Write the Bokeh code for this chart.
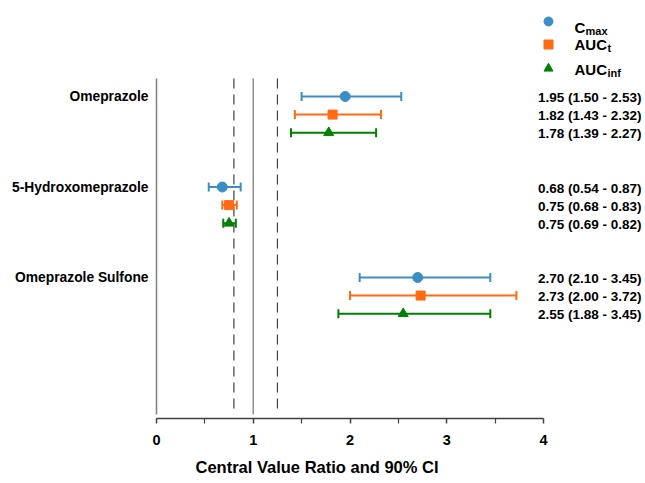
from bokeh.plotting import figure
from bokeh.models import Range1d, FixedTicker, Title
from bokeh.core.properties import value
from bokeh.embed import file_html
from bokeh.resources import INLINE

# ---- data ----
compounds = ["Omeprazole", "5-Hydroxomeprazole", "Omeprazole Sulfone"]
params = ["Cmax", "AUCt", "AUCinf"]
cmax_est = [1.95, 0.68, 2.70]
cmax_lo = [1.50, 0.54, 2.10]
cmax_hi = [2.53, 0.87, 3.45]
auct_est = [1.82, 0.75, 2.73]
auct_lo = [1.43, 0.68, 2.00]
auct_hi = [2.32, 0.83, 3.72]
aucinf_est = [1.78, 0.75, 2.55]
aucinf_lo = [1.39, 0.69, 1.88]
aucinf_hi = [2.27, 0.82, 3.45]
x_ticks = [0, 1, 2, 3, 4]
ref_lines = [0.8, 1.25]

FONT = "Liberation Sans"
colors = ["#3A8EC3", "#FF6A13", "#008000"]
markers = ["circle", "square", "triangle"]
series = [(cmax_est, cmax_lo, cmax_hi), (auct_est, auct_lo, auct_hi),
          (aucinf_est, aucinf_lo, aucinf_hi)]

PX_ROW = 18.1   # pixels per row unit
def row_px(px):  # convert a vertical screen pixel (row 0 at 96) into row units
    return (px - 96) / PX_ROW

p = figure(width=645, height=483, output_backend="svg", toolbar_location=None,
           title=None,
           x_range=Range1d(-6 / 96.75, (645 - 156) / 96.75),
           y_range=Range1d(row_px(418), row_px(0)),
           min_border_left=150, min_border_right=0, min_border_top=0,
           min_border_bottom=65)
p.outline_line_color = None
p.xgrid.visible = False
p.ygrid.visible = False
p.background_fill_color = "white"

y_top = row_px(78)
y_bot = row_px(414)
# vertical reference lines
p.segment(x0=[0], x1=[0], y0=[y_top], y1=[y_bot], line_color="#808080", line_width=1.5)
p.segment(x0=[1], x1=[1], y0=[y_top], y1=[y_bot], line_color="#909090", line_width=1.5)
p.segment(x0=ref_lines, x1=ref_lines, y0=[y_top] * 2, y1=[y_bot] * 2,
          line_color="#404040", line_width=1.2, line_dash="10 6")

cap = 4.5 / PX_ROW
for k, (est, lo, hi) in enumerate(series):
    ys = [g * 5 + k for g in range(len(compounds))]
    c = colors[k]
    p.segment(x0=lo, x1=hi, y0=ys, y1=ys, line_color=c, line_width=2)
    p.segment(x0=lo, x1=lo, y0=[y - cap for y in ys], y1=[y + cap for y in ys],
              line_color=c, line_width=2)
    p.segment(x0=hi, x1=hi, y0=[y - cap for y in ys], y1=[y + cap for y in ys],
              line_color=c, line_width=2)
    size = 10 if markers[k] != "square" else 9
    p.scatter(x=est, y=ys, marker=markers[k], size=size, fill_color=c, line_color=c)
    labels = ["%.2f (%.2f - %.2f)" % (e, l, h) for e, l, h in zip(est, lo, hi)]
    p.text(x=[(641 - 156) / 96.75] * len(ys), y=ys, text=labels, text_align="right",
           text_baseline="middle", y_offset=1, text_font=value(FONT),
           text_font_style="bold", text_font_size="13.5px", text_color="black")

# legend (manual, with subscripts)
leg_x = (548 - 156) / 96.75
txt_x = (574 - 156) / 96.75
leg_marker_px = [21, 44, 68]
leg_base_px = [27, 44, 69]
mains = ["C", "AUC", "AUC"]
subs = ["max", "t", "inf"]
sub_off = [11, 33, 33]
for k in range(3):
    p.scatter(x=[leg_x], y=[row_px(leg_marker_px[k])], marker=markers[k], size=9,
              fill_color=colors[k], line_color=colors[k])
    p.text(x=[txt_x], y=[row_px(leg_base_px[k])], text=[mains[k]], text_align="left",
           text_baseline="alphabetic", text_font=value(FONT), text_font_style="bold",
           text_font_size="15px", text_color="black")
    p.text(x=[txt_x], y=[row_px(leg_base_px[k])], text=[subs[k]], x_offset=sub_off[k],
           y_offset=3, text_align="left", text_baseline="alphabetic",
           text_font=value(FONT), text_font_style="bold", text_font_size="11px",
           text_color="black")

# x axis
xa = p.xaxis[0]
xa.bounds = (0, 4)
xa.ticker = FixedTicker(ticks=x_ticks, minor_ticks=[0.5, 1.5, 2.5, 3.5])
xa.axis_line_color = "#404040"
xa.axis_line_width = 1.5
xa.major_tick_line_color = "#404040"
xa.major_tick_line_width = 1.5
xa.minor_tick_line_color = "#404040"
xa.minor_tick_line_width = 1.2
xa.major_tick_in = 0
xa.major_tick_out = 5
xa.minor_tick_in = 0
xa.minor_tick_out = 5
xa.major_label_standoff = 11
xa.major_label_text_font = FONT
xa.major_label_text_font_style = "bold"
xa.major_label_text_font_size = "14.5px"
xa.major_label_text_color = "black"

# y axis: group names
ya = p.yaxis[0]
ya.ticker = FixedTicker(ticks=[g * 5 for g in range(len(compounds))], minor_ticks=[])
ya.major_label_overrides = {g * 5: name for g, name in enumerate(compounds)}
ya.axis_line_color = None
ya.major_tick_line_color = None
ya.minor_tick_line_color = None
ya.major_tick_in = 0
ya.major_tick_out = 0
ya.major_label_standoff = 2
ya.major_label_text_font = FONT
ya.major_label_text_font_style = "bold"
ya.major_label_text_font_size = "13.8px"
ya.major_label_text_color = "black"

# x axis title, placed below the axis (shifted left like the reference)
p.add_layout(Title(text="Central Value Ratio and 90% CI", align="left",
                   offset=45, standoff=16, text_font=FONT,
                   text_font_style="bold", text_font_size="16.5px",
                   text_color="black"), "below")

open("out.html", "w").write(file_html(p, INLINE))
